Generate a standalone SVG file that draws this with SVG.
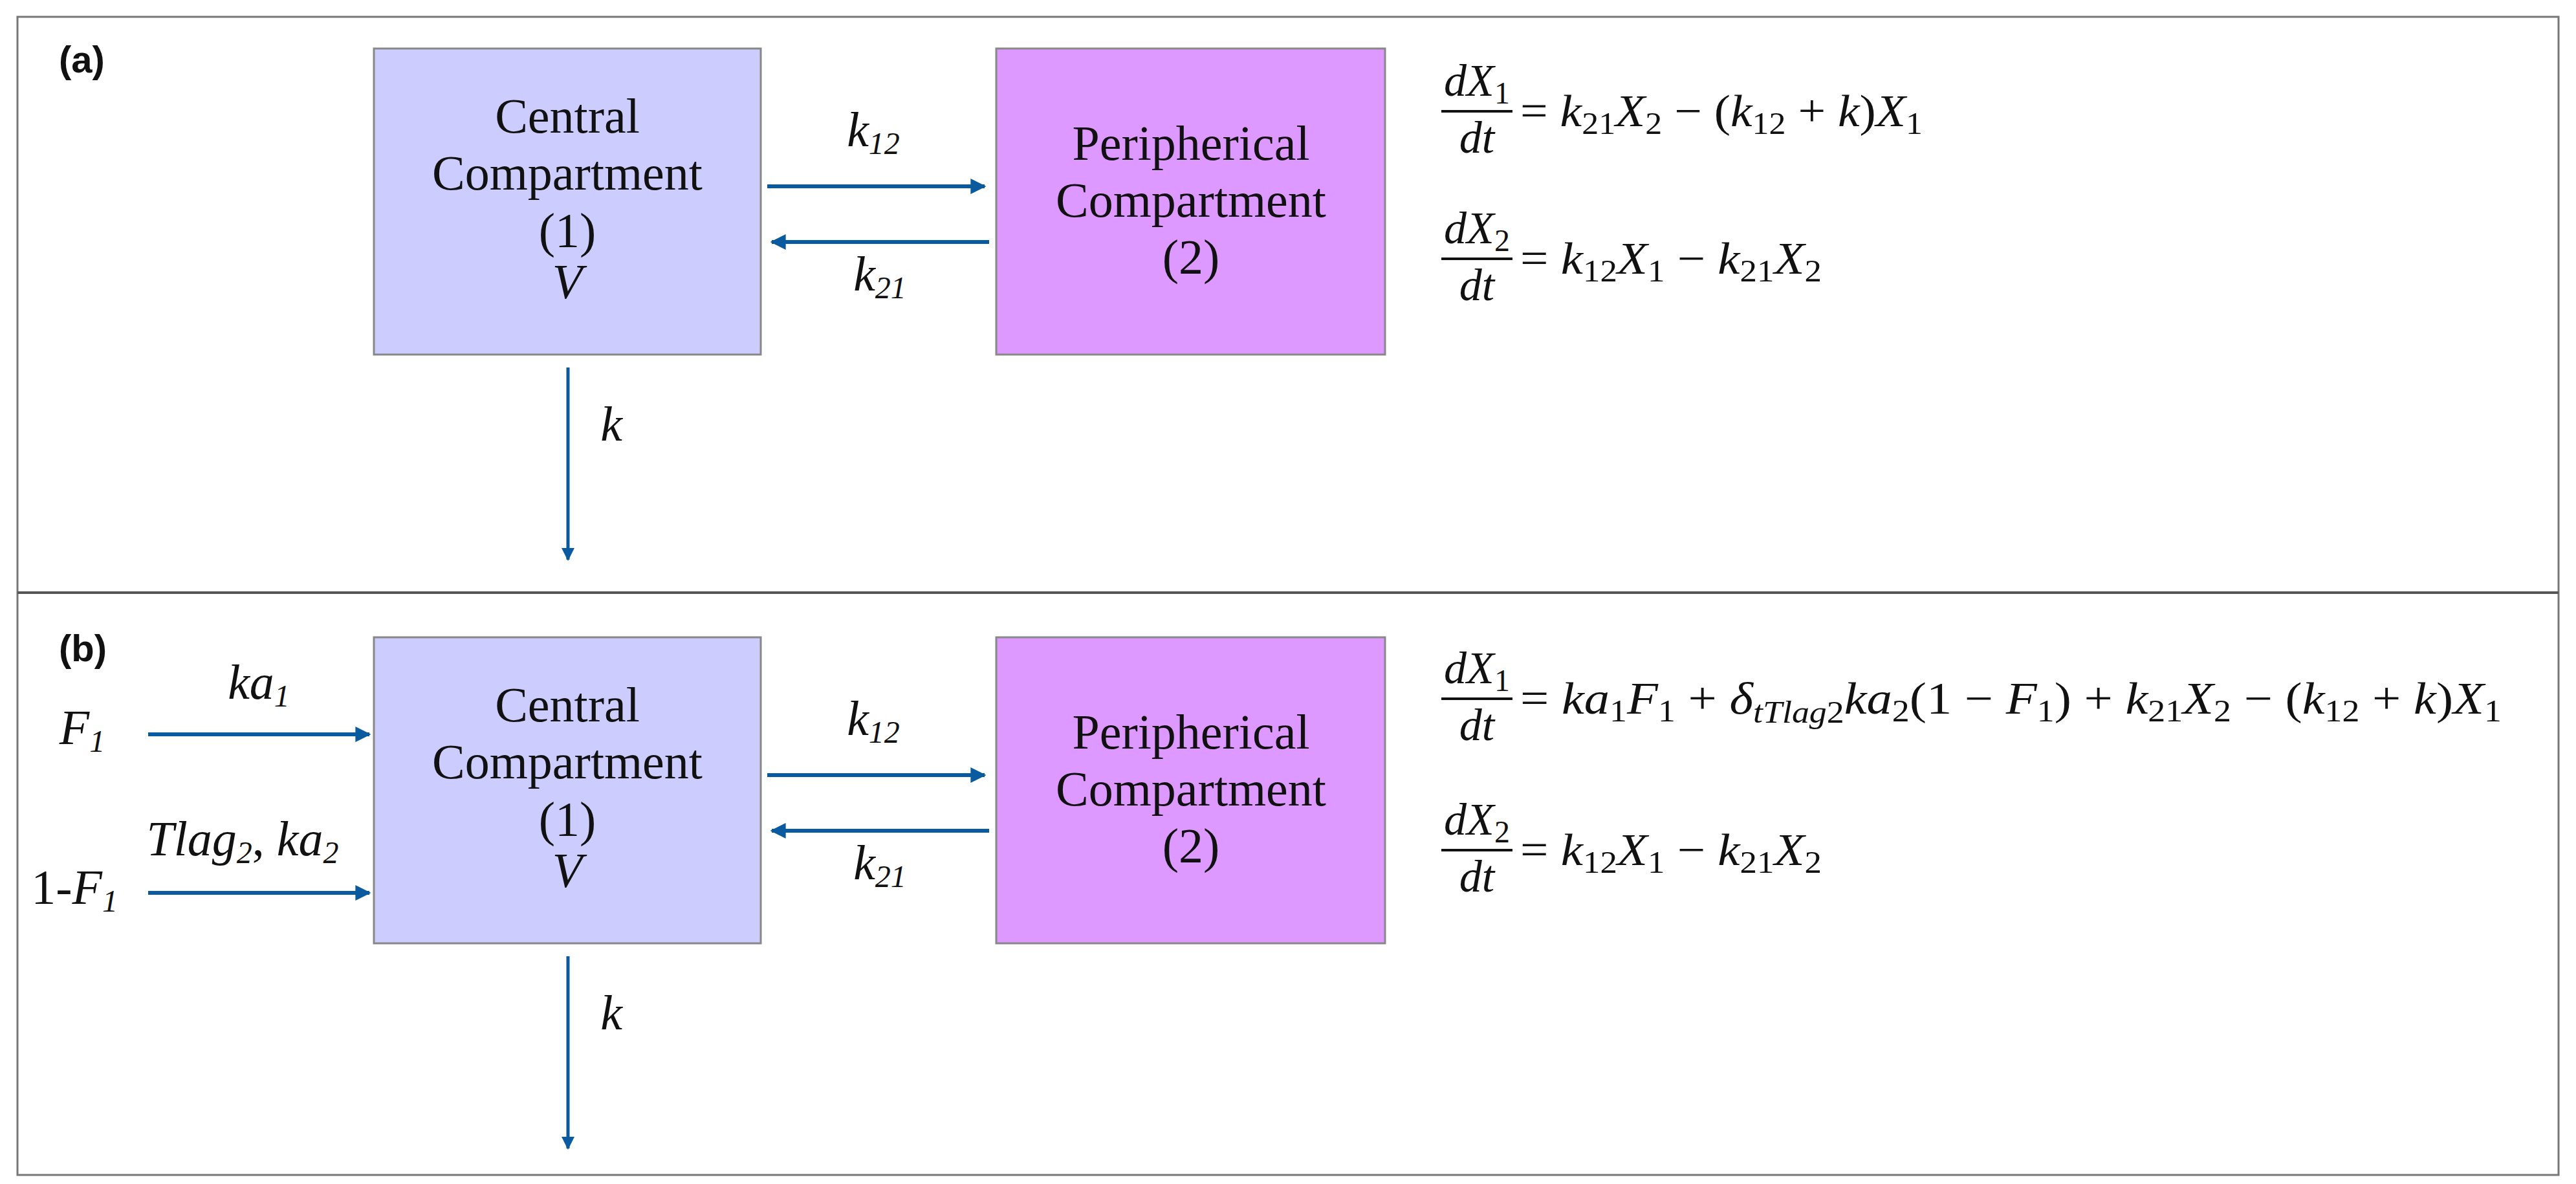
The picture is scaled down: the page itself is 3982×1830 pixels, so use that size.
<svg xmlns="http://www.w3.org/2000/svg" width="3982" height="1830" viewBox="0 0 3982 1830">
<style>
.t{font-family:"Liberation Serif",serif;font-size:76px;fill:#111;text-anchor:middle}
.i{font-style:italic}
.m{font-family:"Liberation Serif",serif;font-size:70px;fill:#111}
.s{font-size:48px}
.lab{font-family:"Liberation Sans",sans-serif;font-weight:bold;font-size:58px;fill:#111}
.c{fill:#CCCCFF;stroke:#888;stroke-width:3}
.p{fill:#DD99FF;stroke:#888;stroke-width:3}
.a{stroke:#0A5AA0;stroke-width:6;fill:none;marker-end:url(#ah)}
.v{stroke:#0A5AA0;stroke-width:5;fill:none;marker-end:url(#ah)}
.bar{stroke:#111;stroke-width:4}
</style>
<defs>
<marker id="ah" viewBox="0 0 10 10" refX="9" refY="5" markerWidth="4" markerHeight="4" orient="auto" markerUnits="strokeWidth"><path d="M0,0 L10,5 L0,10 z" fill="#0A5AA0"/></marker>
</defs>
<rect x="27" y="26" width="3928" height="1790" fill="#fff" stroke="#777" stroke-width="3"/>
<line x1="27" y1="916" x2="3955" y2="916" stroke="#555" stroke-width="4"/>
<text class="lab" x="91" y="112">(a)</text>
<text class="lab" x="91" y="1022">(b)</text>

<g id="a-central"><rect class="c" x="578" y="75" width="598" height="473"/>
<text class="t" x="877" y="205">Central</text><text class="t" x="877" y="293">Compartment</text><text class="t" x="877" y="382">(1)</text><text class="t i" x="877" y="461">V</text></g>
<g id="a-periph"><rect class="p" x="1540" y="75" width="601" height="473"/>
<text class="t" x="1841" y="247">Peripherical</text><text class="t" x="1841" y="335">Compartment</text><text class="t" x="1841" y="423">(2)</text></g>

<g id="b-central"><rect class="c" x="578" y="985" width="598" height="473"/>
<text class="t" x="877" y="1115">Central</text><text class="t" x="877" y="1203">Compartment</text><text class="t" x="877" y="1292">(1)</text><text class="t i" x="877" y="1371">V</text></g>
<g id="b-periph"><rect class="p" x="1540" y="985" width="601" height="473"/>
<text class="t" x="1841" y="1157">Peripherical</text><text class="t" x="1841" y="1245">Compartment</text><text class="t" x="1841" y="1333">(2)</text></g>

<g id="connectors">
<line class="a" x1="1186" y1="288" x2="1522" y2="288"/>
<line class="a" x1="1529" y1="374" x2="1193" y2="374"/>
<line class="v" x1="878" y1="568" x2="878" y2="865"/>
<line class="a" x1="1186" y1="1198" x2="1522" y2="1198"/>
<line class="a" x1="1529" y1="1284" x2="1193" y2="1284"/>
<line class="v" x1="878" y1="1478" x2="878" y2="1775"/>
<line class="a" x1="229" y1="1135" x2="571" y2="1135"/>
<line class="a" x1="229" y1="1380" x2="571" y2="1380"/>
</g>

<g id="labels">
<text class="t i" x="1350" y="226">k<tspan class="s" dy="12">12</tspan></text>
<text class="t i" x="1360" y="449">k<tspan class="s" dy="12">21</tspan></text>
<text class="t i" x="945" y="681">k</text>
<text class="t i" x="1350" y="1136">k<tspan class="s" dy="12">12</tspan></text>
<text class="t i" x="1360" y="1359">k<tspan class="s" dy="12">21</tspan></text>
<text class="t i" x="945" y="1591">k</text>
<text class="t i" x="400" y="1080">ka<tspan class="s" dy="12">1</tspan></text>
<text class="t i" x="127" y="1150">F<tspan class="s" dy="12">1</tspan></text>
<text class="t" x="375" y="1322"><tspan class="i">Tlag</tspan><tspan class="s i" dy="12">2</tspan><tspan dy="-12">, </tspan><tspan class="i">ka</tspan><tspan class="s i" dy="12">2</tspan></text>
<text class="t" x="115" y="1397">1-<tspan class="i">F</tspan><tspan class="s i" dy="12">1</tspan></text>
</g>

<g id="eq-a">
<text class="m" x="2283" y="148" text-anchor="middle"><tspan class="i">dX</tspan><tspan class="s" dy="12">1</tspan></text>
<line class="bar" x1="2228" y1="172" x2="2338" y2="172"/>
<text class="m i" x="2283" y="236" text-anchor="middle">dt</text>
<text class="m" x="2350" y="195" textLength="622" lengthAdjust="spacingAndGlyphs">= <tspan class="i">k</tspan><tspan class="s" dy="12">21</tspan><tspan class="i" dy="-12">X</tspan><tspan class="s" dy="12">2</tspan><tspan dy="-12"> − (</tspan><tspan class="i">k</tspan><tspan class="s" dy="12">12</tspan><tspan dy="-12"> + </tspan><tspan class="i">k</tspan>)<tspan class="i">X</tspan><tspan class="s" dy="12">1</tspan></text>
<text class="m" x="2283" y="376" text-anchor="middle"><tspan class="i">dX</tspan><tspan class="s" dy="12">2</tspan></text>
<line class="bar" x1="2228" y1="400" x2="2338" y2="400"/>
<text class="m i" x="2283" y="464" text-anchor="middle">dt</text>
<text class="m" x="2350" y="423" textLength="466" lengthAdjust="spacingAndGlyphs">= <tspan class="i">k</tspan><tspan class="s" dy="12">12</tspan><tspan class="i" dy="-12">X</tspan><tspan class="s" dy="12">1</tspan><tspan dy="-12"> − </tspan><tspan class="i">k</tspan><tspan class="s" dy="12">21</tspan><tspan class="i" dy="-12">X</tspan><tspan class="s" dy="12">2</tspan></text>
</g>

<g id="eq-b">
<text class="m" x="2283" y="1056" text-anchor="middle"><tspan class="i">dX</tspan><tspan class="s" dy="12">1</tspan></text>
<line class="bar" x1="2228" y1="1080" x2="2338" y2="1080"/>
<text class="m i" x="2283" y="1144" text-anchor="middle">dt</text>
<text class="m" x="2350" y="1103" textLength="1517" lengthAdjust="spacingAndGlyphs">= <tspan class="i">ka</tspan><tspan class="s" dy="12">1</tspan><tspan class="i" dy="-12">F</tspan><tspan class="s" dy="12">1</tspan><tspan dy="-12"> + </tspan><tspan class="i">δ</tspan><tspan class="s i" dy="14">tTlag</tspan><tspan class="s">2</tspan><tspan class="i" dy="-14">ka</tspan><tspan class="s" dy="12">2</tspan><tspan dy="-12">(1 − </tspan><tspan class="i">F</tspan><tspan class="s" dy="12">1</tspan><tspan dy="-12">) + </tspan><tspan class="i">k</tspan><tspan class="s" dy="12">21</tspan><tspan class="i" dy="-12">X</tspan><tspan class="s" dy="12">2</tspan><tspan dy="-12"> − (</tspan><tspan class="i">k</tspan><tspan class="s" dy="12">12</tspan><tspan dy="-12"> + </tspan><tspan class="i">k</tspan>)<tspan class="i">X</tspan><tspan class="s" dy="12">1</tspan></text>
<text class="m" x="2283" y="1290" text-anchor="middle"><tspan class="i">dX</tspan><tspan class="s" dy="12">2</tspan></text>
<line class="bar" x1="2228" y1="1314" x2="2338" y2="1314"/>
<text class="m i" x="2283" y="1378" text-anchor="middle">dt</text>
<text class="m" x="2350" y="1337" textLength="466" lengthAdjust="spacingAndGlyphs">= <tspan class="i">k</tspan><tspan class="s" dy="12">12</tspan><tspan class="i" dy="-12">X</tspan><tspan class="s" dy="12">1</tspan><tspan dy="-12"> − </tspan><tspan class="i">k</tspan><tspan class="s" dy="12">21</tspan><tspan class="i" dy="-12">X</tspan><tspan class="s" dy="12">2</tspan></text>
</g>
</svg>
